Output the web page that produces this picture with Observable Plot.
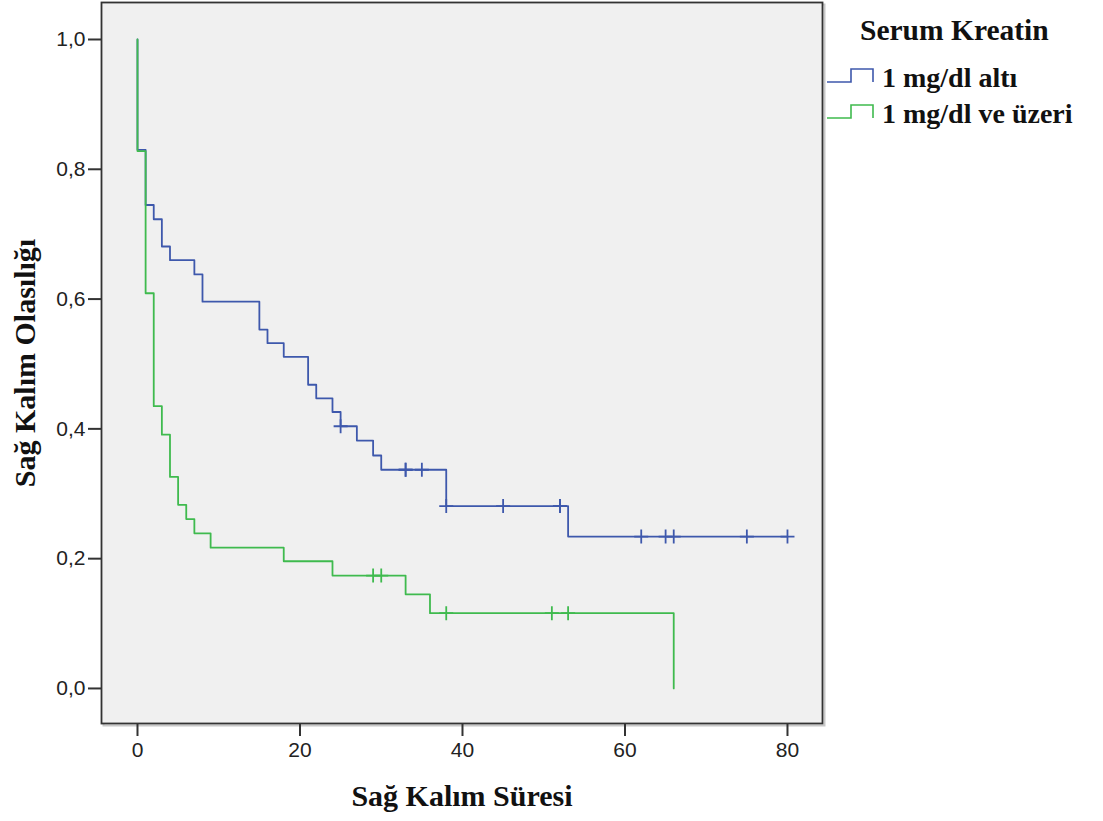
<!DOCTYPE html>
<html>
<head>
<meta charset="utf-8">
<script src="https://cdn.jsdelivr.net/npm/d3@7"></script>
<script src="https://cdn.jsdelivr.net/npm/@observablehq/plot@0.6"></script>
<style>
  html, body { margin: 0; padding: 0; background: #ffffff; }
  #wrap { position: relative; width: 1103px; height: 821px; }
  #legend { position: absolute; left: 822px; top: 0; }
</style>
</head>
<body>
<div id="wrap"></div>
<script>
// ---- Data ----
const groupNames = ["1 mg/dl altı", "1 mg/dl ve üzeri"];
const legendTitle = "Serum Kreatin";
const xTitle = "Sağ Kalım Süresi";
const yTitle = "Sağ Kalım Olasılığı";

// Group 1: "1 mg/dl altı" – step points (time, survival)
const lowTimes = [0, 0, 1, 2, 3, 4, 7, 8, 15, 16, 18, 21, 22, 24, 25, 27, 29, 30, 38, 53, 80];
const lowSurv  = [1.0, 0.830, 0.745, 0.723, 0.681, 0.660, 0.638, 0.596, 0.553, 0.532, 0.511, 0.468, 0.447, 0.426, 0.404, 0.382, 0.359, 0.337, 0.281, 0.234, 0.234];
const lowCensTimes = [25, 33, 33, 35, 38, 45, 52, 52, 62, 65, 66, 75, 80];
const lowCensSurv  = [0.404, 0.337, 0.337, 0.337, 0.281, 0.281, 0.281, 0.281, 0.234, 0.234, 0.234, 0.234, 0.234];

// Group 2: "1 mg/dl ve üzeri"
const highTimes = [0, 0, 1, 2, 3, 4, 5, 6, 7, 9, 18, 24, 33, 36, 66];
const highSurv  = [1.0, 0.828, 0.609, 0.435, 0.391, 0.326, 0.283, 0.261, 0.239, 0.217, 0.196, 0.174, 0.145, 0.116, 0.0];
const highCensTimes = [29, 30, 38, 51, 53];
const highCensSurv  = [0.174, 0.174, 0.116, 0.116, 0.116];

const xTicks = [0, 20, 40, 60, 80];
const yTicks = [0, 0.2, 0.4, 0.6, 0.8, 1.0];
const colors = ["#3e58ac", "#3fba4e"];

// ---- Build tables ----
const steps = [
  ...lowTimes.map((t, i) => ({t, s: lowSurv[i], g: groupNames[0]})),
  ...highTimes.map((t, i) => ({t, s: highSurv[i], g: groupNames[1]}))
];
const censors = [
  ...lowCensTimes.map((t, i) => ({t, s: lowCensSurv[i], g: groupNames[0]})),
  ...highCensTimes.map((t, i) => ({t, s: highCensSurv[i], g: groupNames[1]}))
];

// censor "+" symbol
const plusSymbol = {
  draw(context, size) {
    const r = Math.sqrt(size / Math.PI);
    context.moveTo(0, -r); context.lineTo(0, r);
    context.moveTo(-r, 0); context.lineTo(r, 0);
  }
};

const serif = "'Liberation Serif', 'Times New Roman', serif";
const sans = "'Liberation Sans', Arial, sans-serif";

const chart = Plot.plot({
  width: 1103,
  height: 821,
  marginLeft: 101,
  marginRight: 281,
  marginTop: 2,
  marginBottom: 98,
  style: {background: "transparent", fontFamily: sans},
  x: {domain: [-4.43, 84.31], ticks: xTicks, label: null},
  y: {domain: [-0.054, 1.057], ticks: yTicks, label: null},
  color: {domain: groupNames, range: colors},
  marks: [
    Plot.frame({stroke: "#c8c8c8", strokeWidth: 2, dx: 2, dy: 2}),
    Plot.frame({fill: "#f0f0f0"}),
    Plot.axisX({ticks: xTicks, tickSize: 13, tickPadding: 6, strokeWidth: 2, stroke: "#333", fontSize: 21, fill: "#222", label: null}),
    Plot.axisY({ticks: yTicks, tickSize: 13, tickPadding: 3, strokeWidth: 2, stroke: "#333", fontSize: 21, fill: "#222", label: null,
      tickFormat: d => d.toFixed(1).replace(".", ",")}),
    Plot.line(steps, {x: "t", y: "s", z: "g", stroke: "g", curve: "step-after", strokeWidth: 1.8}),
    Plot.dot(censors, {x: "t", y: "s", stroke: "g", symbol: plusSymbol, r: 7, strokeWidth: 1.8}),
    Plot.frame({stroke: "#333", strokeWidth: 1.8}),
    Plot.text([xTitle], {frameAnchor: "bottom", dy: 73, text: d => d, fontFamily: serif, fontWeight: "bold", fontSize: 30, fill: "#111", lineAnchor: "middle", textAnchor: "middle"}),
    Plot.text([yTitle], {frameAnchor: "left", dx: -76, dy: 0, rotate: -90, text: d => d, fontFamily: serif, fontWeight: "bold", fontSize: 30, fill: "#111", lineAnchor: "middle", textAnchor: "middle"})
  ]
});
document.getElementById("wrap").appendChild(chart);

// ---- Legend ----
const ns = "http://www.w3.org/2000/svg";
const leg = document.createElementNS(ns, "svg");
leg.setAttribute("id", "legend");
leg.setAttribute("width", 281);
leg.setAttribute("height", 150);
const title = document.createElementNS(ns, "text");
title.setAttribute("x", 38); title.setAttribute("y", 40);
title.setAttribute("font-family", serif); title.setAttribute("font-weight", "bold");
title.setAttribute("font-size", 29.5); title.setAttribute("fill", "#111");
title.textContent = legendTitle;
leg.appendChild(title);
groupNames.forEach((name, i) => {
  const yb = 82 + i * 36;
  const p = document.createElementNS(ns, "path");
  p.setAttribute("d", `M5,${yb} H29 V${yb - 13} H51 V${yb}`);
  p.setAttribute("fill", "none"); p.setAttribute("stroke", colors[i]); p.setAttribute("stroke-width", 1.6);
  leg.appendChild(p);
  const tx = document.createElementNS(ns, "text");
  tx.setAttribute("x", 60); tx.setAttribute("y", yb + 5);
  tx.setAttribute("font-family", serif); tx.setAttribute("font-weight", "bold");
  tx.setAttribute("font-size", 28); tx.setAttribute("fill", "#111");
  tx.textContent = name;
  leg.appendChild(tx);
});
document.getElementById("wrap").appendChild(leg);
</script>
</body>
</html>
